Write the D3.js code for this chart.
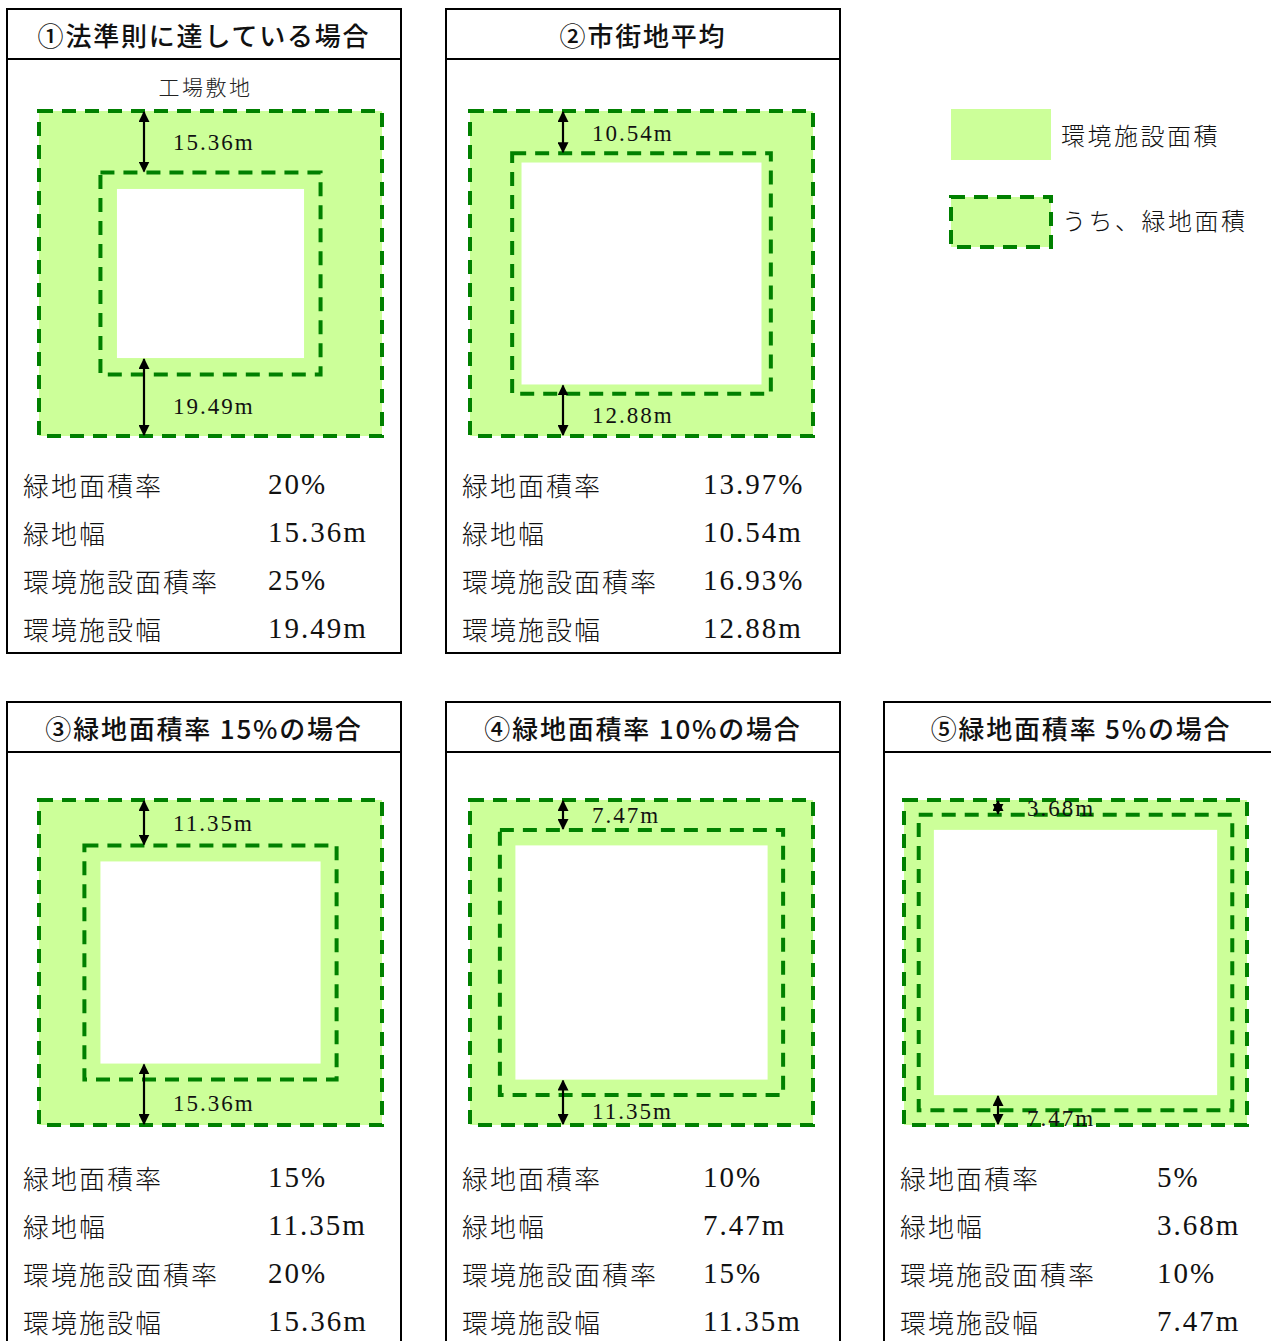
<!DOCTYPE html>
<html><head><meta charset="utf-8">
<script src="https://cdn.jsdelivr.net/npm/d3@7"></script>
<style>
html,body{margin:0;padding:0;background:#fff;}
svg{display:block;}
.jp{font-family:"Noto Sans CJK JP","Noto Sans",sans-serif;}
.num{font-family:"Liberation Serif","DejaVu Serif",serif;}
</style></head>
<body>
<svg id="c" width="1271" height="1341"></svg>
<script>
// ---- data ----
const titles = ["①法準則に達している場合","②市街地平均","③緑地面積率 15%の場合","④緑地面積率 10%の場合","⑤緑地面積率 5%の場合"];
const rowLabels = ["緑地面積率","緑地幅","環境施設面積率","環境施設幅"];
const greenRate = [20, 13.97, 15, 10, 5];          // %
const greenWidth = [15.36, 10.54, 11.35, 7.47, 3.68]; // m
const facilityRate = [25, 16.93, 20, 15, 10];      // %
const facilityWidth = [19.49, 12.88, 15.36, 11.35, 7.47]; // m
const siteLabel = "工場敷地";
const legendLabels = ["環境施設面積","うち、緑地面積"];

// ---- layout ----
const svg = d3.select("#c");
const GREEN = "#ccff99", DARK = "#008000";
const colX = [7, 446, 884], rowY = [9, 702];
const panelW = 394, panelH = [644, 660], headH = 50;
const diagOffX = [32, 24, 20], diagOffY = [102, 98];
const diagW = 343, diagH = 325;
const valOffX = [261, 257, 273];
const arrowOff = [105, 93, 94];
// meters -> px (illustrative scale of the band widths)
const m = d3.scaleLinear().domain([0, 10]).range([0, 40]);

const defs = svg.append("defs");
defs.append("marker").attr("id","ah").attr("viewBox","0 0 10 10").attr("refX",9).attr("refY",5)
  .attr("markerWidth",5).attr("markerHeight",5).attr("markerUnits","strokeWidth").attr("orient","auto-start-reverse")
  .append("path").attr("d","M0,0 L10,5 L0,10 Z").attr("fill","#000");

const fmtPct = v => v + "%";
const fmtM = v => v.toFixed(2) + "m";

const panels = titles.map((t, i) => {
  const col = i < 2 ? i : i - 2, row = i < 2 ? 0 : 1;
  return {i, t, col, row, x: colX[col], y: rowY[row]};
});

const g = svg.selectAll("g.panel").data(panels).join("g").attr("class","panel")
  .attr("transform", d => `translate(${d.x},${d.y})`);

// frame
g.append("rect").attr("x",0).attr("y",0).attr("width",panelW).attr("height",d=>panelH[d.row])
  .attr("fill","none").attr("stroke","#000").attr("stroke-width",2);
g.append("line").attr("x1",0).attr("x2",panelW).attr("y1",headH).attr("y2",headH)
  .attr("stroke","#000").attr("stroke-width",2);
g.append("text").attr("class","jp").attr("x",panelW/2).attr("y",headH/2)
  .attr("text-anchor","middle").attr("dominant-baseline","central")
  .attr("font-size",26).attr("font-weight",500).attr("letter-spacing",1.8).attr("fill","#111")
  .text(d => d.t);

// diagram
g.each(function(d){
  const s = d3.select(this);
  const ox = diagOffX[d.col], oy = diagOffY[d.row];
  const gw = m(greenWidth[d.i]), fw = m(facilityWidth[d.i]);
  // facility area (green fill)
  s.append("rect").attr("x",ox).attr("y",oy).attr("width",diagW).attr("height",diagH).attr("fill",GREEN);
  // building (white)
  s.append("rect").attr("x",ox+fw).attr("y",oy+fw).attr("width",diagW-2*fw).attr("height",diagH-2*fw).attr("fill","#fff");
  // dashed boundaries: site and green belt
  const dash = {"stroke":DARK,"stroke-width":4,"stroke-dasharray":"14,9","fill":"none"};
  const r1 = s.append("rect").attr("x",ox).attr("y",oy).attr("width",diagW).attr("height",diagH);
  const r2 = s.append("rect").attr("x",ox+gw).attr("y",oy+gw).attr("width",diagW-2*gw).attr("height",diagH-2*gw);
  for (const [k,v] of Object.entries(dash)) { r1.attr(k,v); r2.attr(k,v); }
  // arrows
  const ax = ox + arrowOff[d.col];
  s.append("line").attr("x1",ax).attr("x2",ax).attr("y1",oy+1).attr("y2",oy+gw-1)
    .attr("stroke","#000").attr("stroke-width",2.2).attr("marker-start","url(#ah)").attr("marker-end","url(#ah)");
  s.append("line").attr("x1",ax).attr("x2",ax).attr("y1",oy+diagH-fw+1).attr("y2",oy+diagH-1)
    .attr("stroke","#000").attr("stroke-width",2.2).attr("marker-start","url(#ah)").attr("marker-end","url(#ah)");
  s.append("text").attr("class","num").attr("x",ax+29).attr("y",oy+gw/2+1).attr("dominant-baseline","central")
    .attr("font-size",23).attr("letter-spacing",2).attr("fill","#111").text(fmtM(greenWidth[d.i]));
  s.append("text").attr("class","num").attr("x",ax+29).attr("y",oy+diagH-gw/2+1).attr("dominant-baseline","central")
    .attr("font-size",23).attr("letter-spacing",2).attr("fill","#111").text(fmtM(facilityWidth[d.i]));
  if (d.i === 0) {
    s.append("text").attr("class","jp").attr("x",ox+diagW/2-5).attr("y",77).attr("text-anchor","middle")
      .attr("dominant-baseline","central").attr("font-size",21).attr("font-weight",300).attr("letter-spacing",2.5)
      .attr("fill","#222").text(siteLabel);
  }
  // table
  const vals = [fmtPct(greenRate[d.i]), fmtM(greenWidth[d.i]), fmtPct(facilityRate[d.i]), fmtM(facilityWidth[d.i])];
  rowLabels.forEach((lab, k) => {
    const ty = 475 + k*48;
    s.append("text").attr("class","jp").attr("x",16).attr("y",ty).attr("dominant-baseline","central")
      .attr("font-size",26).attr("font-weight",300).attr("letter-spacing",2).attr("fill","#111").text(lab);
    s.append("text").attr("class","num").attr("x",valOffX[d.col]).attr("y",ty).attr("dominant-baseline","central")
      .attr("font-size",29).attr("letter-spacing",2).attr("fill","#111").text(vals[k]);
  });
});

// legend
const lg = svg.append("g");
lg.append("rect").attr("x",951).attr("y",109).attr("width",100).attr("height",51).attr("fill",GREEN);
lg.append("rect").attr("x",951).attr("y",197).attr("width",100).attr("height",50).attr("fill",GREEN)
  .attr("stroke",DARK).attr("stroke-width",4).attr("stroke-dasharray","14,9");
lg.selectAll("text").data(legendLabels).join("text").attr("class","jp")
  .attr("x",(d,i)=> i===0 ? 1061 : 1062).attr("y",(d,i)=> i===0 ? 134 : 219).attr("dominant-baseline","central")
  .attr("font-size",24).attr("font-weight",300).attr("letter-spacing",2.5).attr("fill","#111").text(d=>d);
</script>
</body></html>
